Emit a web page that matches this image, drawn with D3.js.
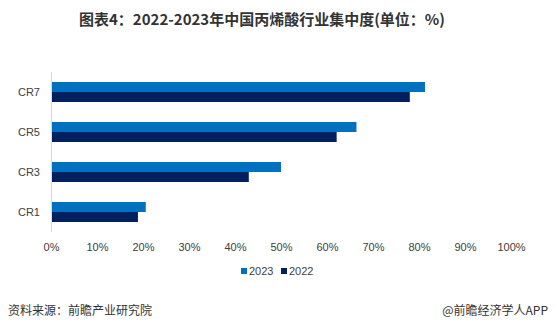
<!DOCTYPE html>
<html><head><meta charset="utf-8">
<script src="https://cdn.jsdelivr.net/npm/d3@7/dist/d3.min.js"></script>
<style>
body{margin:0;background:#fff;}
text{font-family:"Microsoft YaHei","Noto Sans CJK SC","DejaVu Sans",sans-serif;}
</style></head><body>
<svg id="c" width="555" height="332"></svg>
<script>
const categories = ["CR7", "CR5", "CR3", "CR1"];
const series = ["2023", "2022"];
const values2023 = [81.3, 66.4, 50.0, 20.6];
const values2022 = [78.0, 62.1, 43.0, 18.9];
const tickValues = [0,10,20,30,40,50,60,70,80,90,100];
const colors = ["#0070c0", "#002060"];

const svg = d3.select("#c");
svg.append("text").attr("x", 262).attr("y", 25).attr("text-anchor","middle")
  .attr("font-size", 15).attr("font-weight","bold").attr("fill","#333")
  .text("图表4：2022-2023年中国丙烯酸行业集中度(单位：%)");

const x = d3.scaleLinear().domain([0,100]).range([51, 511]);
const y = d3.scaleBand().domain(categories).range([72, 232]).paddingInner(0).paddingOuter(0);
const inner = d3.scaleBand().domain(series).range([0, 20]);
const offset = 10;

const data = [values2023, values2022];
categories.forEach((c, i) => {
  series.forEach((s, j) => {
    svg.append("rect")
      .attr("x", x(0))
      .attr("y", y(c) + offset + inner(s))
      .attr("width", x(data[j][i]) - x(0))
      .attr("height", inner.bandwidth())
      .attr("fill", colors[j]);
  });
});

// y axis line
svg.append("line").attr("x1", x(0)+0.5).attr("x2", x(0)+0.5).attr("y1", 72).attr("y2", 232)
  .attr("stroke","#d9d9d9").attr("stroke-width",1);

// category labels
const yAxis = d3.axisLeft(y).tickSize(0).tickPadding(11);
const ya = svg.append("g").attr("transform", `translate(${x(0)},0)`).call(yAxis);
ya.select(".domain").remove();
ya.selectAll("text").attr("font-size", 11).attr("fill","#404040")
  .style("font-family", '"Liberation Sans","DejaVu Sans",sans-serif');

// x axis labels
const xAxis = d3.axisBottom(x).tickValues(tickValues).tickFormat(d => d + "%").tickSize(0).tickPadding(7);
const xa = svg.append("g").attr("transform", `translate(0,236)`).call(xAxis);
xa.select(".domain").remove();
xa.selectAll("text").attr("font-size", 11).attr("fill","#404040")
  .style("font-family", '"Liberation Sans","DejaVu Sans",sans-serif');

// legend
const legX = [241, 281];
series.forEach((s, j) => {
  svg.append("rect").attr("x", legX[j]).attr("y", 268).attr("width", 6).attr("height", 6).attr("fill", colors[j]);
  svg.append("text").attr("x", legX[j] + 8).attr("y", 275).attr("font-size", 11).attr("fill","#404040")
    .style("font-family", '"Liberation Sans","DejaVu Sans",sans-serif').text(s);
});

// footer
svg.append("text").attr("x", 8).attr("y", 315).attr("font-size", 12).attr("fill","#333")
  .text("资料来源：前瞻产业研究院");
svg.append("text").attr("x", 548).attr("y", 315).attr("text-anchor","end").attr("font-size", 12).attr("fill","#333")
  .text("@前瞻经济学人APP");
</script>
</body></html>
